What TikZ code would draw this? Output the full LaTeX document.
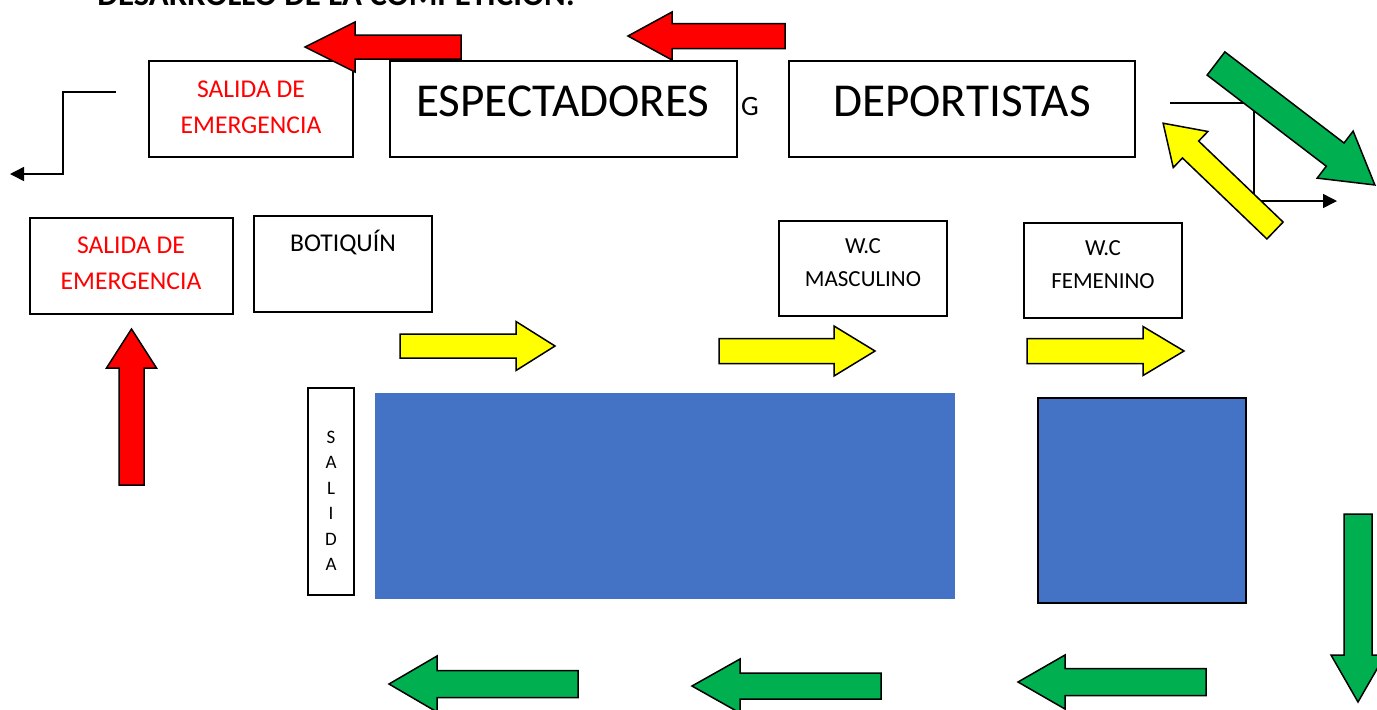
\documentclass[tikz,border=0pt]{standalone}
\usepackage{fontspec}
\setmainfont{Carlito}
\usetikzlibrary{arrows.meta}

\definecolor{exitred}{RGB}{255,0,0}
\definecolor{flowyellow}{RGB}{255,255,0}
\definecolor{flowgreen}{RGB}{0,176,80}
\definecolor{poolblue}{RGB}{68,114,196}

% block arrow: tail, angle, length, shaft half, head half, head length, colour
\newcommand{\blockarrow}[7]{%
  \begin{scope}[shift={(#1)},rotate=#2]
    \filldraw[blockline,fill=#7] (0,-#4) -- ({#3-#6},-#4) -- ({#3-#6},-#5) -- (#3,0)
      -- ({#3-#6},#5) -- ({#3-#6},#4) -- (0,#4) -- cycle;
  \end{scope}}

\begin{document}
\begin{tikzpicture}[x=0.5pt,y=-0.5pt,
    room/.style={draw,line width=1pt,fill=white,inner sep=0pt},
    blockline/.style={draw=black,line width=0.75pt,line join=miter},
    smalltxt/.style={font=\fontsize{12.8}{18}\selectfont,align=center,inner sep=0pt},
    bigtxt/.style={font=\fontsize{23.6}{28}\selectfont,inner sep=0pt},
    route/.style={line width=0.75pt,-{Triangle[length=7pt,width=7pt]}}]
  \useasboundingbox (0,0) rectangle (1377,709);

  \node[anchor=base west,inner sep=0pt,font=\bfseries\fontsize{16.4}{19}\selectfont] (title)
    at (97,5) {DESARROLLO DE LA COMPETICIÓN:};

  % pools
  \node[fill=poolblue,inner sep=0pt,minimum width=290pt,minimum height=103pt] (pool) at (665,496) {};
  \node[room,fill=poolblue,minimum width=104pt,minimum height=102.5pt] (pool2) at (1142,500.5) {};

  % rooms
  \node[room,minimum width=102pt,minimum height=48pt] (exitTop) at (251,109) {};
  \node[room,minimum width=173.5pt,minimum height=48pt] (specs) at (563.5,109) {};
  \node[room,minimum width=173pt,minimum height=48pt] (sport) at (962,109) {};
  \node[room,minimum width=101.5pt,minimum height=48pt] (exitLeft) at (131.5,266) {};
  \node[room,minimum width=89pt,minimum height=48pt] (kit) at (343,264) {};
  \node[room,minimum width=84pt,minimum height=47.5pt] (wcM) at (863,268.5) {};
  \node[room,minimum width=79pt,minimum height=47.5pt] (wcF) at (1103,270.5) {};
  \node[room,minimum width=23pt,minimum height=103.5pt] (exitSide) at (331,491.5) {};

  \node[smalltxt,text=exitred] (exitTopTxt) at (251,107) {SALIDA DE\\EMERGENCIA};
  \node[bigtxt] (specsTxt) at (563,101) {ESPECTADORES};
  \node[inner sep=0pt,font=\fontsize{14}{16}\selectfont] (gTxt) at (750,106.5) {G};
  \node[bigtxt] (sportTxt) at (962,101) {DEPORTISTAS};
  \node[smalltxt,text=exitred] (exitLeftTxt) at (131,263.5) {SALIDA DE\\EMERGENCIA};
  \node[smalltxt,anchor=base] (kitTxt) at (343,251.5) {BOTIQUÍN};
  \node[smalltxt,font=\fontsize{11.5}{16.5}\selectfont] (wcMTxt) at (863,262.5) {W.C\\MASCULINO};
  \node[smalltxt,font=\fontsize{11.5}{16.5}\selectfont] (wcFTxt) at (1103,264.5) {W.C\\FEMENINO};
  \node[smalltxt,font=\fontsize{9.5}{12.75}\selectfont] (exitSideTxt) at (331,501) {S\\A\\L\\I\\D\\A};

  % routes
  \coordinate (l1) at (116,92);
  \coordinate (l2) at (10,174);
  \draw[route] (l1) -- (63,92) -- (63,174) -- (l2);
  \coordinate (r1) at (1170,103);
  \coordinate (r2) at (1337,201);
  \draw[route] (r1) -- (1254,103) -- (1254,201) -- (r2);

  % red
  \blockarrow{461,47}{180}{156}{12}{25}{50}{exitred}
  \blockarrow{785,36}{180}{157}{12.5}{24}{44}{exitred}
  \blockarrow{131.5,485}{90}{156}{12.5}{25}{39}{exitred}

  % yellow
  \blockarrow{400,346}{0}{155}{12}{24.5}{39}{flowyellow}
  \blockarrow{719,351}{0}{156}{12.5}{25}{41}{flowyellow}
  \blockarrow{1027,351}{0}{157}{12.5}{24.5}{41}{flowyellow}
  \blockarrow{1275,230.5}{136.2}{155}{11.7}{25}{38}{flowyellow}

  % green
  \blockarrow{1216,63.5}{-37.4}{200}{14.6}{29.6}{50}{flowgreen}
  \blockarrow{1358,514}{-90}{188}{14}{27}{47}{flowgreen}
  \blockarrow{578,684}{180}{189}{13.5}{28}{48}{flowgreen}
  \blockarrow{881,686}{180}{189}{13}{27}{48}{flowgreen}
  \blockarrow{1206,682}{180}{188}{13.5}{27}{47}{flowgreen}
\end{tikzpicture}
\end{document}
